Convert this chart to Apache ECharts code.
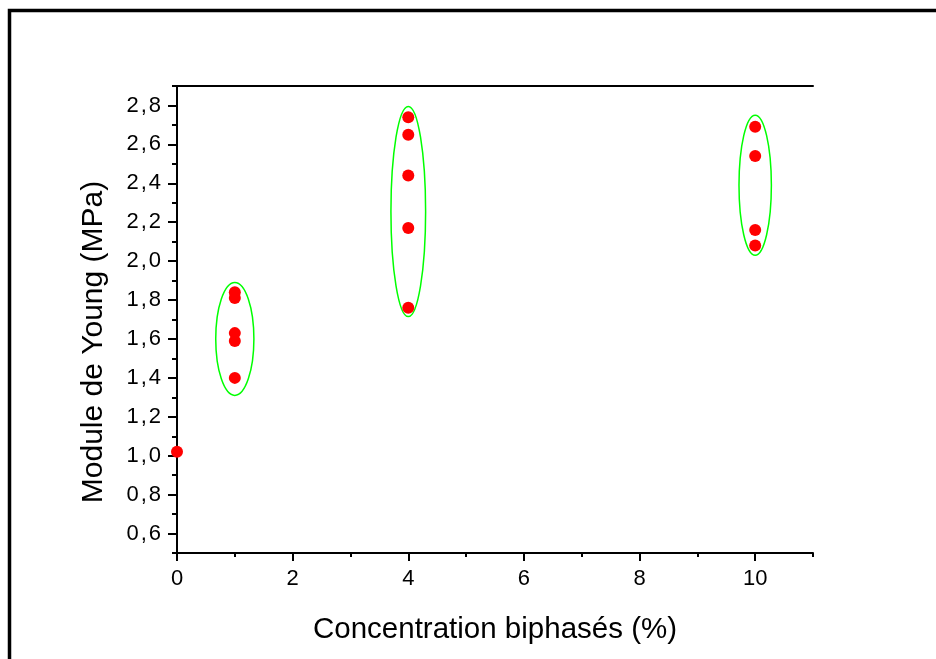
<!DOCTYPE html>
<html>
<head>
<meta charset="utf-8">
<script src="https://cdn.jsdelivr.net/npm/echarts@6/dist/echarts.min.js"></script>
<style>
html,body{margin:0;padding:0;background:#fff;}
#chart{width:936px;height:659px;}
</style>
</head>
<body>
<div id="chart"></div>
<script>
// ---- data ----
const pointX = [0, 1, 1, 1, 1, 1, 4, 4, 4, 4, 4, 10, 10, 10, 10];
const pointY = [1.02, 1.84, 1.81, 1.63, 1.59, 1.40, 2.74, 2.65, 2.44, 2.17, 1.76, 2.69, 2.54, 2.16, 2.08];
const ellipseX = [1, 4, 10];
const ellipseY = [1.60, 2.255, 2.39];
const ellipseRx = [0.33, 0.30, 0.28];
const ellipseRy = [0.29, 0.54, 0.36];
const xMajorTicks = [0, 2, 4, 6, 8, 10];
const xMinorTicks = [1, 3, 5, 7, 9, 11];
const yMajorTicks = [0.6, 0.8, 1.0, 1.2, 1.4, 1.6, 1.8, 2.0, 2.2, 2.4, 2.6, 2.8];
const yMinorTicks = [0.5, 0.7, 0.9, 1.1, 1.3, 1.5, 1.7, 1.9, 2.1, 2.3, 2.5, 2.7, 2.9];
const xTitle = 'Concentration biphasés (%)';
const yTitle = 'Module de Young (MPa)';

const FONT = '"Liberation Sans", Arial, sans-serif';
const chart = echarts.init(document.getElementById('chart'), null, {renderer: 'canvas'});

const scatterData = pointX.map((x, i) => [x, pointY[i]]);
const ellipseData = ellipseX.map((x, i) => [x, ellipseY[i], ellipseRx[i], ellipseRy[i]]);

const lineStyle = {color: '#000', width: 2};
const baseX = {min: 0, max: 11, type: 'value', splitLine: {show: false}};
const baseY = {min: 0.5, max: 2.9, type: 'value', splitLine: {show: false}};
const labelText = {color: '#000', fontSize: 22, fontFamily: FONT};

chart.setOption({
  animation: false,
  backgroundColor: '#fff',
  grid: {left: 177, top: 86, right: 123, bottom: 106, containLabel: false},
  xAxis: [
    Object.assign({}, baseX, {
      position: 'bottom',
      axisLine: {show: true, lineStyle: lineStyle},
      axisTick: {show: true, inside: false, length: 8, lineStyle: {color: '#000', width: 2}, customValues: xMajorTicks},
      axisLabel: {show: true, customValues: xMajorTicks, margin: 15, color: '#000', fontSize: 22, fontFamily: FONT},
      name: xTitle, nameLocation: 'middle', nameGap: 62,
      nameTextStyle: {color: '#000', fontSize: 29.5, fontFamily: FONT}
    }),
    Object.assign({}, baseX, {
      position: 'bottom',
      axisLine: {show: false},
      axisTick: {show: true, inside: false, length: 4, lineStyle: {color: '#000', width: 2}, customValues: xMinorTicks},
      axisLabel: {show: false}
    }),
    Object.assign({}, baseX, {
      position: 'top',
      axisLine: {show: true, lineStyle: lineStyle},
      axisTick: {show: false},
      axisLabel: {show: false}
    })
  ],
  yAxis: [
    Object.assign({}, baseY, {
      position: 'left',
      axisLine: {show: true, lineStyle: lineStyle},
      axisTick: {show: true, inside: false, length: 9, lineStyle: {color: '#000', width: 2}, customValues: yMajorTicks},
      axisLabel: {show: true, customValues: yMajorTicks, margin: 16, color: '#000', fontSize: 22, fontFamily: FONT,
        formatter: v => {
          const parts = v.toFixed(1).split('.');
          return '{d|' + parts[0] + '}{c|,}{d|' + parts[1] + '}';
        },
        rich: {
          d: labelText,
          c: Object.assign({}, labelText, {padding: [0, 2, 0, 2]})
        }}
    }),
    Object.assign({}, baseY, {
      position: 'left',
      axisLine: {show: false},
      axisTick: {show: true, inside: false, length: 5, lineStyle: {color: '#000', width: 2}, customValues: yMinorTicks},
      axisLabel: {show: false}
    }),
    Object.assign({}, baseY, {
      position: 'right',
      axisLine: {show: true, lineStyle: lineStyle},
      axisTick: {show: false},
      axisLabel: {show: false}
    })
  ],
  graphic: [
    {type: 'rect', shape: {x: 9.5, y: 10.5, width: 2000, height: 2000},
      style: {fill: null, stroke: '#000', lineWidth: 3.5}, z: 100, silent: true},
    {type: 'text', x: 94, y: 342, rotation: Math.PI / 2,
      style: {text: yTitle, fill: '#000', fontSize: 30, fontFamily: FONT, align: 'center', verticalAlign: 'middle'}}
  ],
  series: [
    {
      type: 'custom',
      xAxisIndex: 0, yAxisIndex: 0,
      data: ellipseData,
      renderItem: function (params, api) {
        const c = api.coord([api.value(0), api.value(1)]);
        const s = api.size([api.value(2), api.value(3)]);
        return {
          type: 'ellipse',
          shape: {cx: c[0], cy: c[1], rx: s[0], ry: s[1]},
          style: {fill: null, stroke: '#00ff00', lineWidth: 1.5}
        };
      },
      z: 3
    },
    {
      type: 'scatter',
      xAxisIndex: 0, yAxisIndex: 0,
      data: scatterData,
      symbol: 'circle', symbolSize: 12,
      itemStyle: {color: '#ff0000', opacity: 1},
      z: 4
    }
  ]
});
</script>
</body>
</html>
